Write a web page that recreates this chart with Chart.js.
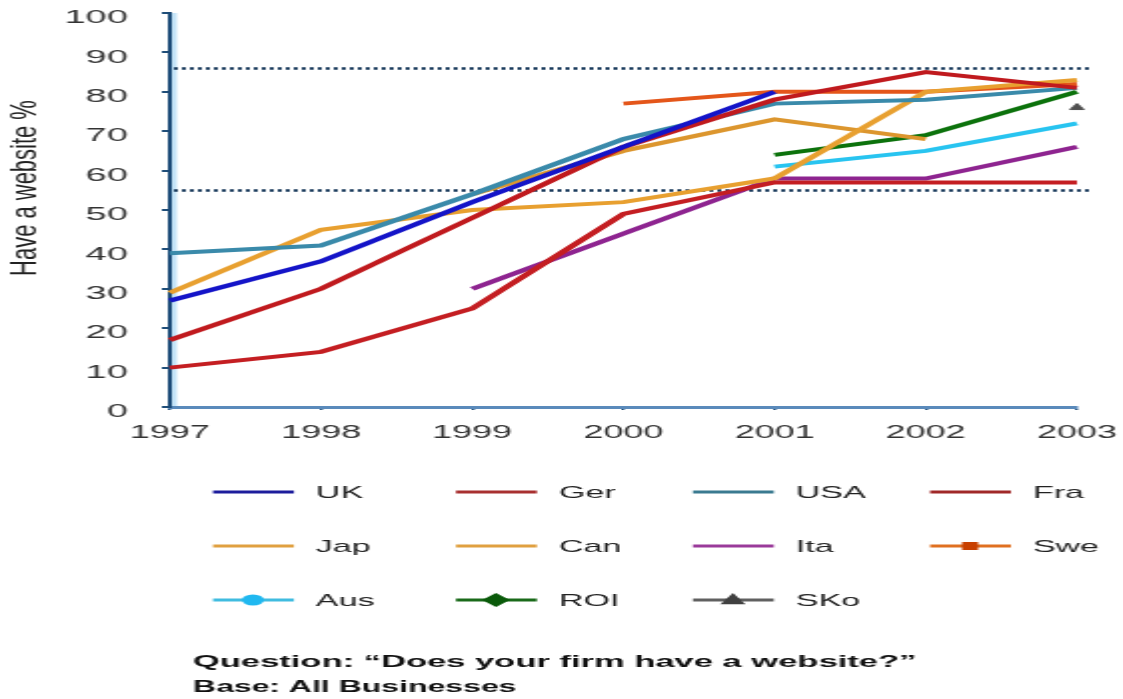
<!DOCTYPE html>
<html><head><meta charset="utf-8">
<script src="https://cdn.jsdelivr.net/npm/chart.js@4.4.1/dist/chart.umd.min.js"></script>
<style>
html,body{margin:0;padding:0;background:#fff;overflow:hidden;width:1123px;height:699px;}
#wrap{position:absolute;left:0;top:0;width:562px;height:699px;transform:scaleX(1.998);transform-origin:0 0;}
canvas{display:block;}
</style></head><body>
<div id="wrap"><canvas id="c" width="562" height="699"></canvas></div>
<script>
// ---- data ----
const years = ['1997', '1998', '1999', '2000', '2001', '2002', '2003'];
const uk  = [27, 37, 52, 66, 80, null, null];
const ger = [17, 30, 48, 66, 78, 85, 81];
const usa = [39, 41, 54, 68, 77, 78, 81];
const fra = [10, 14, 25, 49, 57, 57, 57];
const jap = [29, 45, 50, 52, 58, 80, 83];
const can = [null, null, 54, 65, 73, 68, null];
const ita = [null, null, 30, 44, 58, 58, 66];
const swe = [null, null, null, 77, 80, 80, 82];
const aus = [null, null, null, null, 61, 65, 72];
const roi = [null, null, null, null, 64, 69, 80];
const sko = [null, null, null, null, null, null, 76];
const refLines = [86, 55];
const yTitle = 'Have a website %';
const noteQLabel = 'Question:';
const noteQText = '“Does your firm have a website?”';
const noteBLabel = 'Base:';
const noteBText = 'All Businesses';

const FONT = '"Liberation Sans", Arial, sans-serif';

function lineDs(label, data, color, legendColor, extra) {
  return Object.assign({
    label, data, borderColor: color, backgroundColor: color, legendColor,
    borderWidth: 4, pointRadius: 0, tension: 0, fill: false, spanGaps: false
  }, extra || {});
}

const datasets = [
  lineDs('UK', uk, '#1414c8', '#1c1c9c'),
  lineDs('Ger', ger, '#c01a1e', '#a83030'),
  lineDs('USA', usa, '#3a8aaa', '#3a7a90'),
  lineDs('Fra', fra, '#c41e22', '#a02828'),
  lineDs('Jap', jap, '#e8a030', '#e0a040'),
  lineDs('Can', can, '#dc962e', '#e0a040'),
  lineDs('Ita', ita, '#8e2490', '#9a3a9a'),
  lineDs('Swe', swe, '#e4561a', '#e07020', {legendMarker: 'rect', markerColor: '#c84000'}),
  lineDs('Aus', aus, '#28c4f0', '#40bce0', {legendMarker: 'circle', markerColor: '#20b8f0'}),
  lineDs('ROI', roi, '#0c720c', '#1a6a1a', {legendMarker: 'rectRot', markerColor: '#0a5a0a'}),
  lineDs('SKo', sko, '#555555', '#606060', {legendMarker: 'triangle', markerColor: '#404040',
    pointStyle: 'triangle', pointRadius: 4, pointBackgroundColor: '#505050', pointBorderColor: '#505050', pointBorderWidth: 1})
];

function drawMarker(ctx, style, x, y, r, color) {
  ctx.save();
  ctx.fillStyle = color;
  ctx.beginPath();
  if (style === 'rect') {
    ctx.rect(x - r, y - r, 2 * r, 2 * r);
  } else if (style === 'circle') {
    ctx.arc(x, y, r, 0, Math.PI * 2);
  } else if (style === 'rectRot') {
    ctx.moveTo(x, y - r); ctx.lineTo(x + r, y); ctx.lineTo(x, y + r); ctx.lineTo(x - r, y); ctx.closePath();
  } else if (style === 'triangle') {
    ctx.moveTo(x, y - r); ctx.lineTo(x + r * 0.9, y + r * 0.6); ctx.lineTo(x - r * 0.9, y + r * 0.6); ctx.closePath();
  }
  ctx.fill();
  ctx.restore();
}

const decor = {
  id: 'decor',
  beforeDatasetsDraw(chart) {
    const {ctx, chartArea: a} = chart;
    const ys = chart.scales.y;
    ctx.save();
    ctx.fillStyle = '#c4e4f8';
    ctx.fillRect(a.left + 1, a.top, 2.5, a.bottom - a.top - 1);
    // dotted reference lines
    ctx.strokeStyle = '#1c3d5e';
    ctx.lineWidth = 2.5;
    ctx.setLineDash([2, 2]);
    refLines.forEach(v => {
      const py = Math.round(ys.getPixelForValue(v)) + 0.5;
      ctx.beginPath(); ctx.moveTo(a.left + 2, py); ctx.lineTo(a.right + 6.5, py); ctx.stroke();
    });
    ctx.restore();
  },
  afterDraw(chart) {
    const ctx = chart.ctx;
    // y-axis title
    ctx.save();
    ctx.translate(12.8, 188);
    ctx.rotate(-Math.PI / 2);
    ctx.scale(1.22, 1);
    ctx.font = '18px ' + FONT;
    ctx.fillStyle = '#222';
    ctx.textAlign = 'center';
    ctx.textBaseline = 'middle';
    ctx.fillText(yTitle, 0, 0);
    ctx.restore();

    // legend
    const cols = [106.6, 228.2, 346.8, 465.5];
    const rows = [492, 546, 600];
    const items = chart.data.datasets;
    ctx.save();
    ctx.font = '17px ' + FONT;
    ctx.textBaseline = 'middle';
    ctx.textAlign = 'left';
    items.forEach((d, i) => {
      const x = cols[i % 4], y = rows[Math.floor(i / 4)];
      ctx.strokeStyle = d.legendColor;
      ctx.lineWidth = 3;
      ctx.beginPath(); ctx.moveTo(x, y); ctx.lineTo(x + 40.5, y); ctx.stroke();
      if (d.legendMarker) {
        const r = d.legendMarker === 'rect' ? 4 : (d.legendMarker === 'circle' ? 5.5 : 7);
        drawMarker(ctx, d.legendMarker, x + 20, y, r, d.markerColor);
      }
      ctx.fillStyle = '#222';
      ctx.fillText(d.label, x + 51.5, y + 1);
    });
    ctx.restore();

    // footnote
    ctx.save();
    ctx.fillStyle = '#111';
    ctx.textBaseline = 'middle';
    ctx.textAlign = 'left';
    ctx.font = 'bold 16px ' + FONT;
    const x0 = 96.6;
    const q = noteQLabel + ' ' + noteQText;
    const qw = ctx.measureText(q).width;
    ctx.save();
    ctx.translate(x0, 663);
    ctx.scale(362 / qw, 1);
    ctx.fillText(q, 0, 0);
    ctx.restore();
    ctx.fillText(noteBLabel + ' ' + noteBText, x0, 688);
    ctx.restore();
  }
};

new Chart(document.getElementById('c'), {
  type: 'line',
  data: {labels: years, datasets},
  options: {
    responsive: false,
    animation: false,
    events: [],
    layout: {padding: {left: 0, right: 23, top: 13, bottom: 252}},
    plugins: {legend: {display: false}, tooltip: {enabled: false}, title: {display: false}},
    scales: {
      x: {
        type: 'category', offset: false,
        grid: {display: true, drawOnChartArea: false, drawTicks: true, tickLength: 3, color: '#1f4e79', lineWidth: 1.5},
        border: {display: true, color: '#5a8abb', width: 3},
        ticks: {font: {family: FONT, size: 18}, color: '#333', padding: 12, maxRotation: 0, autoSkip: false},
        afterFit(s) { s.height = 40; s.paddingLeft = 0; s.paddingRight = 0; }
      },
      y: {
        min: 0, max: 100,
        grid: {drawOnChartArea: false, drawTicks: true, tickLength: 4, color: '#1f4e79', lineWidth: 2},
        border: {display: true, color: '#1b4a77', width: 2},
        ticks: {stepSize: 10, font: {family: FONT, size: 19}, color: '#333', padding: 17, labelOffset: 5},
        afterFit(s) { s.width = 85; s.paddingTop = 0; s.paddingBottom = 0; }
      }
    }
  },
  plugins: [decor]
});
</script>
</body></html>
